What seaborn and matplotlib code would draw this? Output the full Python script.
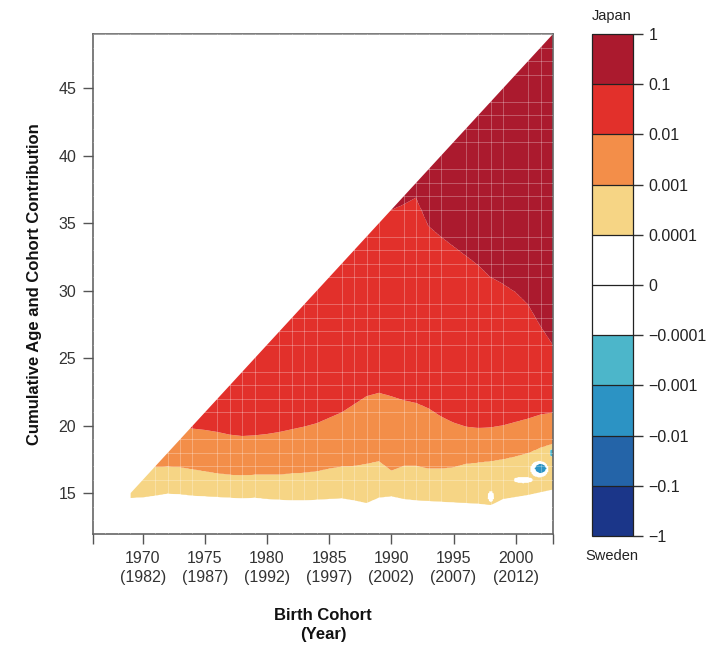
import numpy as np
import matplotlib
matplotlib.use("Agg")
import matplotlib.pyplot as plt
import seaborn as sns
from matplotlib.patches import Polygon

# ---------------- data ----------------
cohorts = np.arange(1969, 2004)  # birth cohorts

# age at which the contribution crosses each contour level, per cohort
edge_0001 = [14.68, 14.72, 14.85, 15.00, 14.95, 14.85, 14.80, 14.75, 14.70, 14.65,
             14.70, 14.60, 14.55, 14.50, 14.50, 14.55, 14.60, 14.65, 14.50, 14.30,
             14.70, 14.80, 14.60, 14.50, 14.45, 14.40, 14.35, 14.30, 14.25, 14.15,
             14.60, 14.75, 14.90, 15.10, 15.30]
edge_001 = [17.00, 17.00, 16.95, 17.00, 16.95, 16.80, 16.65, 16.50, 16.40, 16.35,
            16.40, 16.40, 16.40, 16.50, 16.55, 16.65, 16.85, 17.00, 17.05, 17.20,
            17.40, 16.70, 17.05, 17.05, 16.85, 16.85, 16.95, 17.20, 17.30, 17.40,
            17.55, 17.75, 18.00, 18.40, 18.70]
edge_01 = [20.00, 20.00, 20.00, 20.00, 20.00, 19.80, 19.70, 19.55, 19.35, 19.25,
           19.30, 19.40, 19.55, 19.75, 19.95, 20.20, 20.60, 21.00, 21.60, 22.20,
           22.45, 22.20, 21.90, 21.70, 21.30, 20.70, 20.25, 19.95, 19.85, 19.90,
           20.05, 20.30, 20.55, 20.85, 21.00]
edge_1 = [50.0, 50.0, 50.0, 50.0, 50.0, 50.0, 50.0, 50.0, 50.0, 50.0,
          50.0, 50.0, 50.0, 50.0, 50.0, 50.0, 50.0, 50.0, 50.0, 50.0,
          50.0, 36.0, 36.4, 36.9, 34.8, 34.0, 33.3, 32.6, 31.9, 31.0,
          30.5, 29.9, 29.0, 27.4, 26.0]

# small isolated patches: cohort, age, half-width (years), half-height (ages), value
spot_cohort = [1998.0, 2000.6, 2001.9, 2002.0, 2003.0]
spot_age = [14.8, 16.0, 16.8, 16.85, 18.0]
spot_rc = [0.25, 0.80, 0.75, 0.42, 0.30]
spot_ra = [0.40, 0.25, 0.62, 0.32, 0.30]
spot_value = [0.0, 0.0, 0.0, -0.003, -0.0005]

age_offset = 1954  # cumulative age reaches cohort - 1954

levels = [-1, -0.1, -0.01, -0.001, -0.0001, 0, 0.0001, 0.001, 0.01, 0.1, 1]
level_labels = ["\u22121", "\u22120.1", "\u22120.01", "\u22120.001", "\u22120.0001", "0",
                "0.0001", "0.001", "0.01", "0.1", "1"]
band_colors = ["#1b3689", "#2464a8", "#2c93c4", "#4cb6ca", "#ffffff", "#ffffff",
               "#f6d585", "#f38e49", "#e2302b", "#ab1a2e"]

x_ticks = [1966, 1970, 1975, 1980, 1985, 1990, 1995, 2000, 2003]
x_labels = ["", "1970\n(1982)", "1975\n(1987)", "1980\n(1992)", "1985\n(1997)",
            "1990\n(2002)", "1995\n(2007)", "2000\n(2012)", ""]
y_ticks = [15, 20, 25, 30, 35, 40, 45]

# ---------------- style ----------------
sns.set_theme(style="white")
plt.rcParams["font.family"] = ["Liberation Sans", "DejaVu Sans"]

fig = plt.figure(figsize=(7.13, 6.46), dpi=100)
ax = fig.add_axes([93 / 713, 1 - 534 / 646, 460 / 713, 500 / 646])

# build the field on a fine rendering grid from the boundary arrays
cf = np.arange(cohorts[0], cohorts[-1] + 1e-9, 0.1)
af = np.arange(12.0, 49.5, 0.05)
b0 = np.interp(cf, cohorts, edge_0001)
b1 = np.interp(cf, cohorts, edge_001)
b2 = np.interp(cf, cohorts, edge_01)
b3 = np.interp(cf, cohorts, edge_1)
Z = np.empty((len(af), len(cf)))
for j in range(len(cf)):
    xp = [b0[j] - 1.0, b0[j], b1[j], b2[j], b3[j], b3[j] + 15]
    fp = [0.0, 1e-4, 1e-3, 1e-2, 1e-1, 0.99]
    Z[:, j] = np.interp(af, xp, fp)
CF, AF = np.meshgrid(cf, af)
for c0, a0, rc, ra, v in zip(spot_cohort, spot_age, spot_rc, spot_ra, spot_value):
    m = ((CF - c0) / rc) ** 2 + ((AF - a0) / ra) ** 2 <= 1
    Z[m] = v

cs = ax.contourf(CF, AF, Z, levels=levels, colors=band_colors, antialiased=True)
tri = Polygon([(cohorts[0], 12.0), (cohorts[0], cohorts[0] - age_offset),
               (cohorts[-1], cohorts[-1] - age_offset), (cohorts[-1], 12.0)],
              closed=True, transform=ax.transData, facecolor="none", edgecolor="none")
cs.set_clip_path(tri)

ax.set_xlim(1966, 2003)
ax.set_ylim(12, 49)

# faint cell grid over the coloured area
ax.set_xticks(np.arange(1966, 2004), minor=True)
ax.set_yticks(np.arange(12, 50), minor=True)
ax.grid(which="minor", color="white", alpha=0.28, linewidth=0.7)
ax.grid(which="major", visible=False)
ax.set_axisbelow(False)

ax.set_xticks(x_ticks)
ax.set_xticklabels(x_labels, fontsize=11.5, color="#333333", linespacing=1.4)
ax.set_yticks(y_ticks)
ax.set_yticklabels([str(t) for t in y_ticks], fontsize=11.5, color="#333333")
ax.tick_params(which="major", direction="out", length=7, width=1.0, color="#555555",
               bottom=True, left=True, pad=5)
ax.tick_params(which="minor", length=0)
for s in ax.spines.values():
    s.set_color("#666666")
    s.set_linewidth(1.2)

ax.set_ylabel("Cumulative Age and Cohort Contribution", fontsize=12, fontweight="bold",
              color="#111111", labelpad=12)
fig.text(323 / 713, 1 - 625 / 646, "Birth Cohort\n(Year)", ha="center", va="center",
         fontsize=12, fontweight="bold", color="#111111", linespacing=1.25)

# colour key
cax = fig.add_axes([592 / 713, 1 - 536 / 646, 41 / 713, 502 / 646])
cb = fig.colorbar(cs, cax=cax, drawedges=True)
cb.set_ticks(levels)
cb.set_ticklabels(level_labels)
cb.ax.tick_params(direction="out", length=7, width=1.0, color="#333333",
                  labelsize=11.5, labelcolor="#222222", pad=4)
cb.outline.set_linewidth(0.9)
cb.outline.set_edgecolor("#222222")
cb.dividers.set_color("#222222")
cb.dividers.set_linewidth(0.9)
fig.text(612 / 713, 1 - 16 / 646, "Japan", ha="center", va="center", fontsize=10.5,
         color="#222222")
fig.text(612 / 713, 1 - 556 / 646, "Sweden", ha="center", va="center", fontsize=10.5,
         color="#222222")

fig.savefig("out.png", dpi=100, facecolor="white")
